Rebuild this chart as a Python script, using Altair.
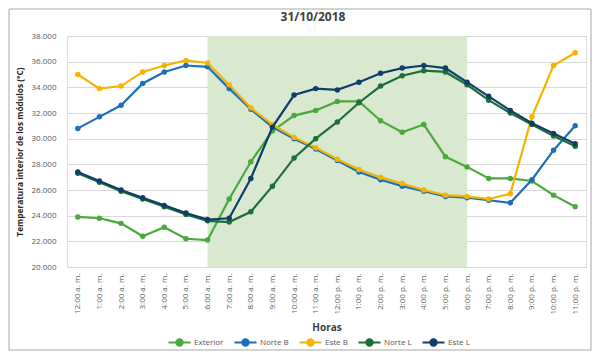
import altair as alt
import pandas as pd

chart_title = "31/10/2018"

hours = ["12:00 a. m.", "1:00 a. m.", "2:00 a. m.", "3:00 a. m.", "4:00 a. m.", "5:00 a. m.",
         "6:00 a. m.", "7:00 a. m.", "8:00 a. m.", "9:00 a. m.", "10:00 a. m.", "11:00 a. m.",
         "12:00 p. m.", "1:00 p. m.", "2:00 p. m.", "3:00 p. m.", "4:00 p. m.", "5:00 p. m.",
         "6:00 p. m.", "7:00 p. m.", "8:00 p. m.", "9:00 p. m.", "10:00 p. m.", "11:00 p. m."]

series_names = ["Exterior", "Norte B", "Este B", "Norte L", "Este L"]
series_colors = ["#4aa83c", "#1f6fb8", "#f5b400", "#1d6f38", "#0e3f6b"]

exterior = [23.9, 23.8, 23.4, 22.4, 23.1, 22.2, 22.1, 25.3, 28.2, 30.6, 31.8, 32.2,
            32.9, 32.9, 31.4, 30.5, 31.1, 28.6, 27.8, 26.9, 26.9, 26.7, 25.6, 24.7]
norte_b = [30.8, 31.7, 32.6, 34.3, 35.2, 35.7, 35.6, 33.9, 32.3, 30.9, 30.0, 29.2,
           28.3, 27.4, 26.8, 26.3, 25.9, 25.5, 25.4, 25.2, 25.0, 26.8, 29.1, 31.0]
este_b = [35.0, 33.9, 34.1, 35.2, 35.7, 36.1, 35.9, 34.2, 32.4, 31.1, 30.1, 29.3,
          28.4, 27.6, 27.0, 26.5, 26.0, 25.6, 25.5, 25.3, 25.7, 31.7, 35.7, 36.7]
norte_l = [27.3, 26.6, 25.9, 25.3, 24.7, 24.1, 23.6, 23.5, 24.3, 26.3, 28.5, 30.0,
           31.3, 32.8, 34.1, 34.9, 35.3, 35.2, 34.2, 33.0, 32.0, 31.1, 30.2, 29.4]
este_l = [27.4, 26.7, 26.0, 25.4, 24.8, 24.2, 23.7, 23.8, 26.9, 30.9, 33.4, 33.9,
          33.8, 34.4, 35.1, 35.5, 35.7, 35.5, 34.4, 33.3, 32.2, 31.2, 30.4, 29.6]

all_series = [exterior, norte_b, este_b, norte_l, este_l]

rows = []
for name, vals in zip(series_names, all_series):
    for i, v in enumerate(vals):
        rows.append({"serie": name, "idx": i, "hora": hours[i], "temp": v})
df = pd.DataFrame(rows)

daylight = pd.DataFrame({"start": [6], "end": [18], "top": [38], "bottom": [20]})

W, H = 519, 231
FONT = "Open Sans"
label_expr = "[" + ",".join("'" + h + "'" for h in hours) + "][datum.value]"

xscale = alt.Scale(domain=[-0.5, 23.5], nice=False, zero=False)
yscale = alt.Scale(domain=[20, 38], nice=False, zero=False)
color_scale = alt.Scale(domain=series_names, range=series_colors)

xaxis = alt.Axis(values=list(range(24)), labelExpr=label_expr, labelAngle=-90,
                 labelAlign="right", labelBaseline="middle", grid=False, ticks=False,
                 domain=False, labelFontSize=8, labelColor="#595959", labelPadding=6,
                 labelFont=FONT, title="Horas", titleFont=FONT, titleFontSize=10,
                 titleFontWeight="bold", titleColor="#404040", titlePadding=8)
yaxis = alt.Axis(values=list(range(20, 39, 2)), format=".3f", grid=True, gridColor="#d9d9d9",
                 ticks=False, domain=False, labelFontSize=8, labelColor="#595959",
                 labelFont=FONT, labelPadding=11,
                 title="Temperatura interior de los módulos (°C)", titleFont=FONT,
                 titleFontSize=8.3, titleFontWeight="bold", titleColor="#262626",
                 titlePadding=7)

shade = alt.Chart(daylight).mark_rect(color="#d8e9d0").encode(
    x=alt.X("start:Q", scale=xscale, axis=xaxis),
    x2="end:Q",
    y=alt.Y("top:Q", scale=yscale, axis=yaxis),
    y2="bottom:Q",
)

legend = alt.Legend(orient="none", legendX=100, legendY=294, direction="horizontal",
                    title=None, labelFont=FONT, labelFontSize=8, labelColor="#595959",
                    symbolType="M-1,0L1,0M-0.28,0A0.28,0.28 0 1 1 0.28,0A0.28,0.28 0 1 1 -0.28,0",
                    symbolSize=484, symbolStrokeWidth=2.2, labelOffset=2, columnPadding=6)

layers = [shade]
for k, name in enumerate(series_names):
    base = alt.Chart(df).transform_filter(alt.datum.serie == name)
    enc = dict(
        x=alt.X("idx:Q", scale=xscale, axis=xaxis),
        y=alt.Y("temp:Q", scale=yscale, axis=yaxis),
        color=alt.Color("serie:N", scale=color_scale, legend=legend),
    )
    layers.append(base.mark_line(strokeWidth=2.2).encode(**enc))
    layers.append(base.mark_point(filled=True, size=30, opacity=1).encode(**enc))

frame = alt.Chart(daylight).mark_rect(fill="transparent", stroke="#a6a6a6", strokeWidth=1).encode(
    x=alt.value(-58), x2=alt.value(W + 5), y=alt.value(-27), y2=alt.value(H + 83)
)
layers.append(frame)

title_mark = alt.Chart(daylight).mark_text(
    text=chart_title, font=FONT, fontSize=12, fontWeight="bold", color="#404040",
    align="center", baseline="middle"
).encode(x=alt.value(246), y=alt.value(-19))
layers.append(title_mark)

chart = alt.layer(*layers).properties(
    width=W, height=H,
    autosize=alt.AutoSizeParams(type="none"),
    padding={"left": 59, "top": 28, "right": 6, "bottom": 84},
).configure_view(stroke=None).configure(background="white")

chart.save("out.html", embed_options={"renderer": "svg", "actions": False})
